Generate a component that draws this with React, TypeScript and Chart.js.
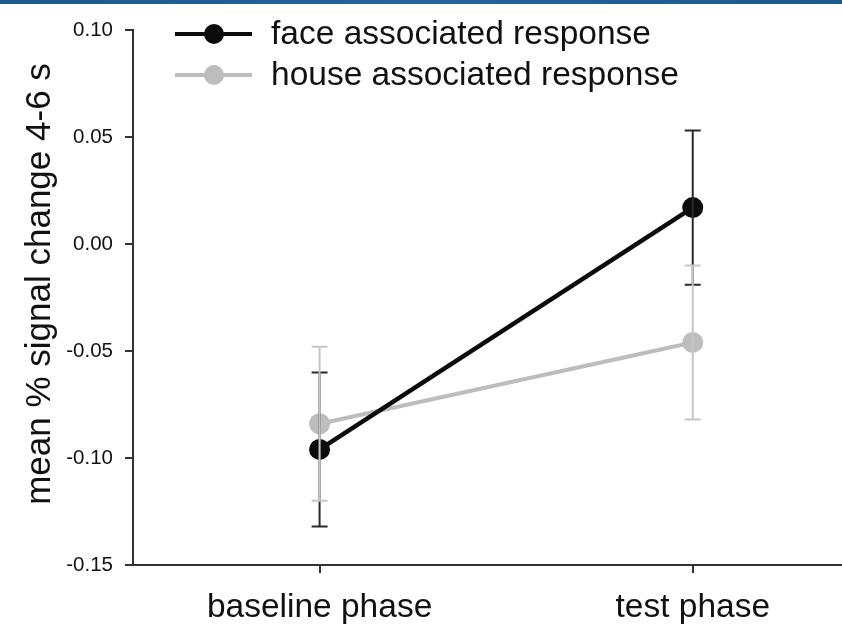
import React, { useEffect, useRef } from "react";
import { Chart, registerables } from "chart.js";

Chart.register(...registerables);

const categories = ["baseline phase", "test phase"];
const faceValues = [-0.096, 0.017];
const faceErrors = [0.036, 0.036];
const houseValues = [-0.084, -0.046];
const houseErrors = [0.036, 0.036];
const yTicks = [-0.15, -0.1, -0.05, 0.0, 0.05, 0.1];
const seriesNames = ["face associated response", "house associated response"];
const yTitle = "mean % signal change 4-6 s";

const FONT = "'Liberation Sans', Arial, Helvetica, sans-serif";
const FACE_COLOR = "#0b0b0b";
const HOUSE_COLOR = "#bdbdbd";
const FACE_BAR = "#2a2a2a";
const HOUSE_BAR = "#c6c6c6";

export default function App() {
  const ref = useRef<HTMLCanvasElement | null>(null);

  useEffect(() => {
    const canvas = ref.current;
    if (!canvas) return;

    const errorPlugin = {
      id: "errorBars",
      afterDatasetsDraw(chart: any) {
        const { ctx } = chart;
        const xs = chart.scales.x;
        const ys = chart.scales.y;
        const sets = [
          { vals: faceValues, errs: faceErrors, color: FACE_BAR },
          { vals: houseValues, errs: houseErrors, color: HOUSE_BAR },
        ];
        ctx.save();
        sets.forEach((s) => {
          ctx.strokeStyle = s.color;
          ctx.lineWidth = 2;
          s.vals.forEach((v, i) => {
            const x = xs.getPixelForValue(i);
            const yt = ys.getPixelForValue(v + s.errs[i]);
            const yb = ys.getPixelForValue(v - s.errs[i]);
            ctx.beginPath();
            ctx.moveTo(x, yt);
            ctx.lineTo(x, yb);
            ctx.moveTo(x - 8, yt);
            ctx.lineTo(x + 8, yt);
            ctx.moveTo(x - 8, yb);
            ctx.lineTo(x + 8, yb);
            ctx.stroke();
          });
        });
        ctx.restore();
      },
    };

    const decoPlugin = {
      id: "deco",
      beforeDraw(chart: any) {
        const { ctx, width } = chart;
        ctx.save();
        const g = ctx.createLinearGradient(0, 0, width, 0);
        g.addColorStop(0, "#1d5a8e");
        g.addColorStop(0.5, "#25659a");
        g.addColorStop(1, "#1d5a8e");
        ctx.fillStyle = g;
        ctx.fillRect(0, 0, width, 4);
        ctx.restore();
      },
      afterDraw(chart: any) {
        const { ctx } = chart;
        const items = [
          { name: seriesNames[0], color: FACE_COLOR, y: 34 },
          { name: seriesNames[1], color: HOUSE_COLOR, y: 75 },
        ];
        ctx.save();
        items.forEach((it) => {
          ctx.strokeStyle = it.color;
          ctx.lineWidth = 4;
          ctx.beginPath();
          ctx.moveTo(175, it.y);
          ctx.lineTo(252, it.y);
          ctx.stroke();
          ctx.fillStyle = it.color;
          ctx.beginPath();
          ctx.arc(214, it.y, 10, 0, Math.PI * 2);
          ctx.fill();
          ctx.fillStyle = "#111";
          ctx.font = `33.5px ${FONT}`;
          ctx.textAlign = "left";
          ctx.textBaseline = "middle";
          ctx.fillText(it.name, 271, it.y + 1);
        });
        // y-axis title
        ctx.translate(40, 284);
        ctx.rotate(-Math.PI / 2);
        ctx.font = `35px ${FONT}`;
        ctx.textAlign = "center";
        ctx.textBaseline = "middle";
        ctx.fillStyle = "#111";
        ctx.fillText(yTitle, 0, 0);
        ctx.restore();
      },
    };

    const chart = new Chart(canvas, {
      type: "line",
      data: {
        datasets: [
          {
            label: seriesNames[0],
            data: faceValues.map((v, i) => ({ x: i, y: v })),
            borderColor: FACE_COLOR,
            backgroundColor: FACE_COLOR,
            borderWidth: 4.5,
            pointRadius: 10.5,
            pointBorderWidth: 0,
            pointBackgroundColor: FACE_COLOR,
            fill: false,
            tension: 0,
          },
          {
            label: seriesNames[1],
            data: houseValues.map((v, i) => ({ x: i, y: v })),
            borderColor: HOUSE_COLOR,
            backgroundColor: HOUSE_COLOR,
            borderWidth: 4,
            pointRadius: 10.5,
            pointBorderWidth: 0,
            pointBackgroundColor: HOUSE_COLOR,
            fill: false,
            tension: 0,
          },
        ],
      },
      options: {
        responsive: false,
        animation: false,
        layout: { autoPadding: false, padding: { top: 30, left: 0, right: 0, bottom: 0 } },
        plugins: {
          legend: { display: false },
          tooltip: { enabled: false },
        },
        scales: {
          x: {
            type: "linear",
            min: -0.5,
            max: 1.4,
            afterBuildTicks(scale: any) {
              scale.ticks = categories.map((_, i) => ({ value: i }));
            },
            afterFit(scale: any) {
              scale.height = 64;
              scale.paddingLeft = 0;
              scale.paddingRight = 0;
            },
            ticks: {
              callback: (v: any) => categories[Number(v)] ?? "",
              font: { family: FONT, size: 33.5 },
              color: "#111",
              padding: 15,
              maxRotation: 0,
              autoSkip: false,
            },
            grid: {
              display: true,
              drawOnChartArea: false,
              drawTicks: true,
              tickLength: 8,
              color: "#333",
              lineWidth: 2,
            },
            border: { display: true, color: "#333", width: 2 },
          },
          y: {
            type: "linear",
            min: yTicks[0],
            max: yTicks[yTicks.length - 1],
            afterBuildTicks(scale: any) {
              scale.ticks = yTicks.map((v) => ({ value: v }));
            },
            afterFit(scale: any) {
              scale.width = 133;
            },
            ticks: {
              callback: (v: any) => Number(v).toFixed(2),
              font: { family: FONT, size: 20.5 },
              color: "#111",
              padding: 12,
            },
            grid: {
              display: true,
              drawOnChartArea: false,
              drawTicks: true,
              tickLength: 8,
              color: "#333",
              lineWidth: 2,
            },
            border: { display: true, color: "#333", width: 2 },
          },
        },
      },
      plugins: [errorPlugin, decoPlugin],
    });

    return () => chart.destroy();
  }, []);

  return (
    <div style={{ position: "absolute", left: 0, top: 0, width: 842, height: 629, background: "#fff" }}>
      <canvas ref={ref} width={842} height={629} />
    </div>
  );
}
